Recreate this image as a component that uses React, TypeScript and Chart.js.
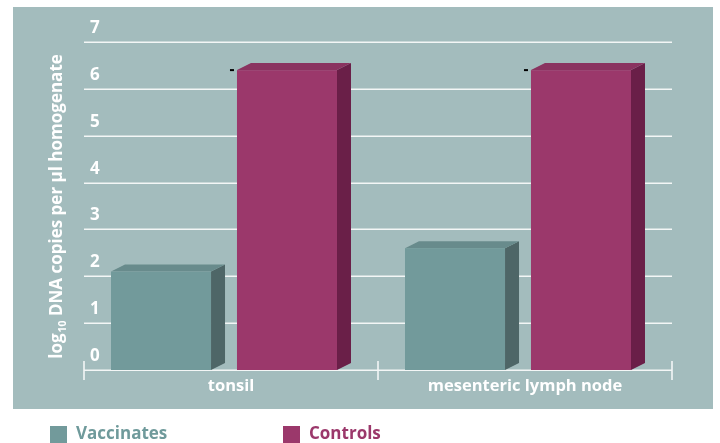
import React, { useEffect, useRef } from "react";
import { Chart, registerables } from "chart.js";
Chart.register(...registerables);

const categories = ["tonsil", "mesenteric lymph node"];
const seriesNames = ["Vaccinates", "Controls"];
const vaccinates = [2.1, 2.6];
const controls = [6.4, 6.4];
const yTicks = [0, 1, 2, 3, 4, 5, 6, 7];
const yTitleMain = "log";
const yTitleSub = "10";
const yTitleRest = " DNA copies per µl homogenate";

const FRONT = ["#729a9b", "#9b386b"];
const SIDE = ["#4e6667", "#6a1f48"];
const TOP = ["#688b8c", "#8a3360"];
const LEGEND_TEXT = ["#6f9a9b", "#9b386b"];
const PANEL = "#a3bcbd";
const LINE = "#f3f6f6";
const FONT = '"Open Sans", sans-serif';
const DX = 14;
const DY = 7;

const decor = {
  id: "decor",
  beforeDraw(chart: any) {
    const { ctx, chartArea: ca, width, height } = chart;
    ctx.save();
    ctx.fillStyle = "#ffffff";
    ctx.fillRect(0, 0, width, height);
    ctx.fillStyle = PANEL;
    ctx.fillRect(ca.left - 71, ca.top - 35, ca.right - ca.left + 112, ca.bottom - ca.top + 74);
    ctx.restore();
  },
  beforeDatasetsDraw(chart: any) {
    const { ctx, chartArea: ca, scales } = chart;
    const ys = scales.y;
    const xs = scales.x;
    ctx.save();
    ctx.strokeStyle = LINE;
    ctx.lineWidth = 1.6;
    yTicks.forEach((v) => {
      const y = Math.round(ys.getPixelForValue(v)) + 0.2;
      ctx.beginPath();
      ctx.moveTo(ca.left, y);
      ctx.lineTo(ca.right, y);
      ctx.stroke();
    });
    // category boundary ticks
    const cw = (ca.right - ca.left) / categories.length;
    for (let i = 0; i <= categories.length; i++) {
      const x = ca.left + i * cw;
      ctx.beginPath();
      ctx.moveTo(x, ca.bottom - 9);
      ctx.lineTo(x, ca.bottom + 10);
      ctx.stroke();
    }
    // y tick labels
    ctx.fillStyle = "#ffffff";
    ctx.font = `bold 17px ${FONT}`;
    ctx.textAlign = "left";
    ctx.textBaseline = "alphabetic";
    yTicks.forEach((v) => {
      const y = ys.getPixelForValue(v);
      ctx.fillText(String(v), ca.left + 6, y - 9);
    });
    // category labels
    ctx.font = `bold 16.5px ${FONT}`;
    ctx.textAlign = "center";
    categories.forEach((c, i) => {
      ctx.fillText(c, xs.getPixelForValue(i), ca.bottom + 21);
    });
    // y title
    ctx.translate(ca.left - 22, (ca.top + ca.bottom) / 2 + 1);
    ctx.rotate(-Math.PI / 2);
    const big = `bold 17px ${FONT}`;
    const small = `bold 10.5px ${FONT}`;
    ctx.font = big;
    const w1 = ctx.measureText(yTitleMain).width;
    const w3 = ctx.measureText(yTitleRest).width;
    ctx.font = small;
    const w2 = ctx.measureText(yTitleSub).width;
    let x0 = -(w1 + w2 + w3) / 2;
    ctx.textAlign = "left";
    ctx.font = big;
    ctx.fillText(yTitleMain, x0, 0);
    x0 += w1 + 1;
    ctx.font = small;
    ctx.fillText(yTitleSub, x0, 3.5);
    x0 += w2;
    ctx.font = big;
    ctx.fillText(yTitleRest, x0, 0);
    ctx.restore();
  },
  afterDatasetsDraw(chart: any) {
    const { ctx } = chart;
    ctx.save();
    chart.data.datasets.forEach((ds: any, di: number) => {
      const meta = chart.getDatasetMeta(di);
      meta.data.forEach((el: any) => {
        const { x, y, base, width } = el.getProps(["x", "y", "base", "width"], true);
        const left = x - width / 2 - DX / 2;
        const right = left + width;
        const top = y;
        const bottom = base;
        ctx.fillStyle = SIDE[di];
        ctx.beginPath();
        ctx.moveTo(right, top);
        ctx.lineTo(right + DX, top - DY);
        ctx.lineTo(right + DX, bottom - DY);
        ctx.lineTo(right, bottom);
        ctx.closePath();
        ctx.fill();
        ctx.fillStyle = TOP[di];
        ctx.beginPath();
        ctx.moveTo(left, top);
        ctx.lineTo(left + DX, top - DY);
        ctx.lineTo(right + DX, top - DY);
        ctx.lineTo(right, top);
        ctx.closePath();
        ctx.fill();
        ctx.fillStyle = FRONT[di];
        ctx.fillRect(left, top, width, bottom - top);
        if (di === 1) {
          ctx.fillStyle = "#000000";
          ctx.fillRect(left - 7, top - 1, 4, 2);
        }
      });
    });
    ctx.restore();
  },
  afterDraw(chart: any) {
    const { ctx, chartArea: ca } = chart;
    ctx.save();
    ctx.font = `bold 17px ${FONT}`;
    ctx.textAlign = "left";
    ctx.textBaseline = "alphabetic";
    const starts = [ca.left - 34, ca.left + 199];
    chart.data.datasets.forEach((ds: any, i: number) => {
      const sx = starts[i];
      const sy = ca.bottom + 56;
      ctx.fillStyle = FRONT[i];
      ctx.fillRect(sx, sy, 17, 17);
      ctx.fillStyle = LEGEND_TEXT[i];
      ctx.fillText(ds.label, sx + 26, sy + 13);
    });
    ctx.restore();
  },
};

export default function App() {
  const ref = useRef<HTMLCanvasElement | null>(null);
  useEffect(() => {
    if (!ref.current) return;
    const chart = new Chart(ref.current, {
      type: "bar",
      data: {
        labels: categories,
        datasets: [
          { label: seriesNames[0], data: vaccinates, backgroundColor: "rgba(0,0,0,0)" },
          { label: seriesNames[1], data: controls, backgroundColor: "rgba(0,0,0,0)" },
        ],
      },
      options: {
        responsive: false,
        animation: false,
        devicePixelRatio: 1,
        categoryPercentage: 0.857,
        barPercentage: 0.794,
        layout: { padding: { left: 84, right: 48, top: 42, bottom: 73 } },
        plugins: { legend: { display: false }, tooltip: { enabled: false } },
        scales: {
          x: { display: false },
          y: { display: false, min: 0, max: 7 },
        },
      },
      plugins: [decor],
    });
    return () => chart.destroy();
  }, []);
  return (
    <div style={{ position: "absolute", left: 0, top: 0, width: 720, height: 443 }}>
      <canvas ref={ref} width={720} height={443} />
    </div>
  );
}
